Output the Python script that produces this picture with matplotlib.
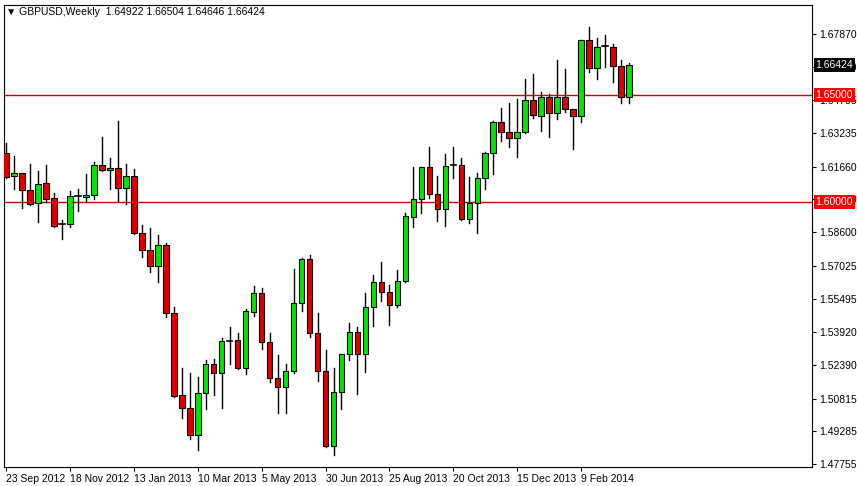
import matplotlib
matplotlib.use('Agg')
import matplotlib.pyplot as plt
from matplotlib.patches import Rectangle

plt.rcParams['font.family'] = ['Liberation Sans', 'DejaVu Sans']

# OHLC hebdomadaire GBPUSD
opens = [1.6229, 1.6121, 1.6135, 1.6056, 1.5995, 1.6089, 1.6019, 1.5895, 1.5897, 1.6026,
         1.6023, 1.6033, 1.6173, 1.6149, 1.6159, 1.6065, 1.6121, 1.5855, 1.5775, 1.5700,
         1.5799, 1.5481, 1.5097, 1.5036, 1.4911, 1.5106, 1.5242, 1.5200, 1.5352, 1.5356,
         1.5226, 1.5488, 1.5574, 1.5345, 1.5176, 1.5134, 1.5209, 1.5527, 1.5733, 1.5387,
         1.5209, 1.4861, 1.5111, 1.5289, 1.5392, 1.5289, 1.5511, 1.5625, 1.5579, 1.5519,
         1.5633, 1.5932, 1.6014, 1.6165, 1.6037, 1.5967, 1.6171, 1.6174, 1.5920, 1.5998,
         1.6112, 1.6229, 1.6374, 1.6327, 1.6299, 1.6327, 1.6478, 1.6405, 1.6491, 1.6416,
         1.6491, 1.6435, 1.6405, 1.6758, 1.6627, 1.6728, 1.6728, 1.6636, 1.64922]
highs = [1.6277, 1.6216, 1.6137, 1.6179, 1.6146, 1.6174, 1.6042, 1.5917, 1.6053, 1.6062,
         1.6132, 1.6187, 1.6307, 1.6206, 1.6380, 1.6179, 1.6154, 1.5894, 1.5880, 1.5847,
         1.5811, 1.5509, 1.5226, 1.5200, 1.5184, 1.5262, 1.5265, 1.5364, 1.5415, 1.5390,
         1.5499, 1.5608, 1.5597, 1.5387, 1.5284, 1.5243, 1.5688, 1.5738, 1.5753, 1.5481,
         1.5309, 1.5226, 1.5290, 1.5434, 1.5418, 1.5574, 1.5660, 1.5719, 1.5613, 1.5683,
         1.5951, 1.6166, 1.6166, 1.6260, 1.6123, 1.6226, 1.6260, 1.6206, 1.6120, 1.6135,
         1.6236, 1.6382, 1.6442, 1.6466, 1.6482, 1.6577, 1.6600, 1.6517, 1.6506, 1.6665,
         1.6623, 1.6435, 1.6759, 1.6821, 1.6767, 1.6782, 1.6740, 1.6665, 1.66504]
lows = [1.6113, 1.6062, 1.5975, 1.5989, 1.5909, 1.6003, 1.5886, 1.5827, 1.5883, 1.5960,
        1.6003, 1.6014, 1.6148, 1.6062, 1.6007, 1.5990, 1.5852, 1.5745, 1.5675, 1.5628,
        1.5462, 1.5090, 1.4989, 1.4891, 1.4841, 1.5033, 1.5098, 1.5036, 1.5242, 1.5218,
        1.5197, 1.5469, 1.5315, 1.5161, 1.5016, 1.5013, 1.5200, 1.5493, 1.5368, 1.5165,
        1.4857, 1.4818, 1.5031, 1.5262, 1.5103, 1.5207, 1.5421, 1.5539, 1.5427, 1.5509,
        1.5627, 1.5886, 1.5951, 1.6018, 1.5914, 1.5890, 1.6115, 1.5917, 1.5901, 1.5855,
        1.6061, 1.6131, 1.6288, 1.6257, 1.6213, 1.6322, 1.6393, 1.6335, 1.6307, 1.6389,
        1.6424, 1.6250, 1.6377, 1.6608, 1.6577, 1.6634, 1.6564, 1.6466, 1.64646]
closes = [1.6120, 1.6135, 1.6056, 1.5993, 1.6084, 1.6017, 1.5890, 1.5896, 1.6028, 1.6028,
          1.6033, 1.6174, 1.6149, 1.6159, 1.6065, 1.6121, 1.5855, 1.5775, 1.5700, 1.5799,
          1.5481, 1.5095, 1.5036, 1.4911, 1.5106, 1.5242, 1.5200, 1.5351, 1.5353, 1.5226,
          1.5491, 1.5574, 1.5345, 1.5176, 1.5134, 1.5209, 1.5527, 1.5733, 1.5387, 1.5209,
          1.4861, 1.5111, 1.5289, 1.5392, 1.5289, 1.5511, 1.5625, 1.5579, 1.5519, 1.5633,
          1.5936, 1.6014, 1.6165, 1.6037, 1.5967, 1.6170, 1.6172, 1.5920, 1.5998, 1.6112,
          1.6229, 1.6374, 1.6327, 1.6299, 1.6327, 1.6478, 1.6408, 1.6491, 1.6416, 1.6491,
          1.6435, 1.6405, 1.6758, 1.6627, 1.6728, 1.6729, 1.6636, 1.6491, 1.66424]

date_labels = ['23 Sep 2012', '18 Nov 2012', '13 Jan 2013', '10 Mar 2013', '5 May 2013',
               '30 Jun 2013', '25 Aug 2013', '20 Oct 2013', '15 Dec 2013', '9 Feb 2014']
price_ticks = [1.67870, 1.66340, 1.64795, 1.63235, 1.61660, 1.60130, 1.58600, 1.57025,
               1.55495, 1.53920, 1.52390, 1.50815, 1.49285, 1.47755]
hlines = [1.65000, 1.60000]

VERT = '#00e600'
ROUGE = '#e00000'

fig = plt.figure(figsize=(8.57, 4.86), dpi=100)
ax = fig.add_axes([4 / 857, 19 / 486, 808 / 857, 462 / 486])

w = 0.7
for i, (o, h, l, c) in enumerate(zip(opens, highs, lows, closes)):
    ax.plot([i, i], [l, h], color='black', lw=1, zorder=2)
    bas, haut = min(o, c), max(o, c)
    if abs(c - o) < 0.0002:
        ax.plot([i - w / 2, i + w / 2], [c, c], color='black', lw=1.2, zorder=3)
        continue
    couleur = VERT if c > o else ROUGE
    ax.add_patch(Rectangle((i - w / 2, bas), w, haut - bas, facecolor=couleur,
                           edgecolor='black', lw=0.8, zorder=3))

for niveau in hlines:
    ax.axhline(niveau, color='#d00000', lw=1, zorder=1)

ax.set_xlim(-0.25, 100.9)
ax.set_ylim(1.47615, 1.69227)

ax.yaxis.tick_right()
ax.set_yticks(price_ticks)
ax.set_yticklabels([f'{p:.5f}' for p in price_ticks])
ax.set_xticks(range(0, len(date_labels) * 8, 8))
ax.set_xticklabels(date_labels, ha='left')
ax.tick_params(labelsize=7.5, length=3, width=0.8, pad=2)
for s in ax.spines.values():
    s.set_linewidth(0.8)

# étiquettes de prix à droite
etiquettes = [(closes[-1], 'black'), (hlines[0], '#ff0000'), (hlines[1], '#ff0000')]
for p, fond in etiquettes:
    ax.text(1.0045, p, f'{p:.5f}', transform=ax.get_yaxis_transform(), fontsize=7.5,
            color='white', va='center', ha='left', zorder=10, clip_on=False,
            bbox=dict(boxstyle='square,pad=0.2', facecolor=fond, edgecolor='none'))

fig.text(6 / 857, 1 - 12 / 486,
         f'\u25bc GBPUSD,Weekly  {opens[-1]:.5f} {highs[-1]:.5f} {lows[-1]:.5f} {closes[-1]:.5f}',
         fontsize=7.5, va='center', ha='left')

fig.savefig('out.png', dpi=100)
